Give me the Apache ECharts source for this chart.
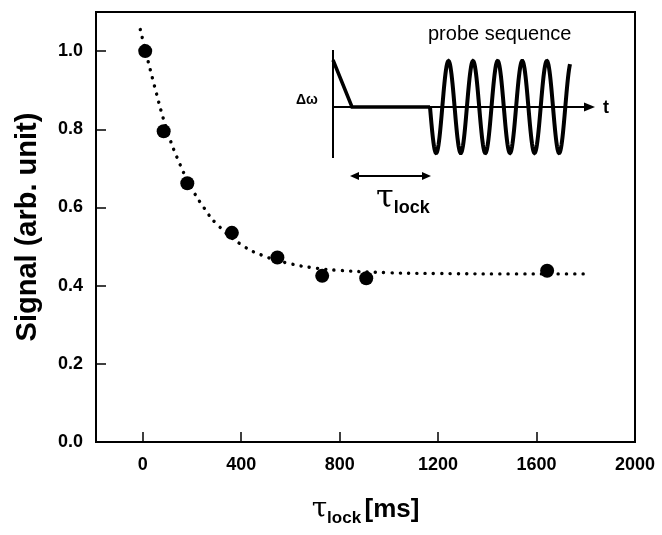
<!DOCTYPE html>
<html>
<head>
<meta charset="utf-8">
<script src="https://cdn.jsdelivr.net/npm/echarts@6/dist/echarts.min.js"></script>
<style>
html,body{margin:0;padding:0;background:#fff;}
#main{width:662px;height:535px;}
</style>
</head>
<body>
<div id="main"></div>
<script>
// ---- data ----
var tauLock = [10, 85, 181, 362, 547, 729, 908, 1643];          // ms
var signal  = [1.0, 0.795, 0.662, 0.535, 0.472, 0.425, 0.419, 0.438];
// dotted fit curve
var curveX = [-10, 50, 100, 150, 200, 250, 300, 400, 500, 600, 700, 800, 1000, 1200, 1500, 1800];
var curveY = [1.055, 0.905, 0.795, 0.712, 0.648, 0.598, 0.558, 0.505, 0.474, 0.456, 0.445, 0.439, 0.433, 0.431, 0.430, 0.430];
var xTicks = [0, 400, 800, 1200, 1600];
var xLabels = [0, 400, 800, 1200, 1600, 2000];
var yTicks = [0, 0.2, 0.4, 0.6, 0.8, 1.0];

var FONT = 'Liberation Sans';
var pts = tauLock.map(function(x, i){ return [x, signal[i]]; });
var curve = curveX.map(function(x, i){ return [x, curveY[i]]; });

// inset schematic (pure illustration)
var sine = [];
var x0 = 430, P = 24.6, A = 46, yc = 107;
for (var x = x0; x <= 570; x += 0.5) {
  sine.push([x, yc + A * Math.sin(2 * Math.PI * (x - x0) / P)]);
}

var chart = echarts.init(document.getElementById('main'), null, {renderer: 'canvas'});
chart.setOption({
  animation: false,
  backgroundColor: '#fff',
  grid: {left: 96, right: 27, top: 12, bottom: 93, show: true, borderColor: '#000', borderWidth: 2, backgroundColor: 'transparent'},
  xAxis: {
    type: 'value', min: -190, max: 2000,
    axisLine: {show: true, onZero: false, lineStyle: {color: '#000', width: 2}},
    axisTick: {show: true, inside: true, length: 10, customValues: xTicks, lineStyle: {color: '#000', width: 1.5}},
    axisLabel: {customValues: xLabels, color: '#000', fontFamily: FONT, fontWeight: 'bold', fontSize: 18, margin: 14,
      formatter: function(v){ return String(v); }},
    splitLine: {show: false},
    name: '{tau|τ}{sub|lock} {b|[ms]}',
    nameLocation: 'middle', nameGap: 50,
    nameTextStyle: {
      rich: {
        tau: {fontFamily: 'DejaVu Serif', fontSize: 28, color: '#000'},
        sub: {fontFamily: FONT, fontWeight: 'bold', fontSize: 17, color: '#000', padding: [18, 0, 0, 0]},
        b: {fontFamily: FONT, fontWeight: 'bold', fontSize: 26, color: '#000'}
      }
    }
  },
  yAxis: {
    type: 'value', min: 0, max: 1.1,
    axisLine: {show: true, onZero: false, lineStyle: {color: '#000', width: 2}},
    axisTick: {show: true, inside: true, length: 10, customValues: yTicks, lineStyle: {color: '#000', width: 1.5}},
    axisLabel: {customValues: yTicks, color: '#000', fontFamily: FONT, fontWeight: 'bold', fontSize: 18, margin: 13,
      formatter: function(v){ return v.toFixed(1); }},
    splitLine: {show: false},
    name: 'Signal (arb. unit)', nameLocation: 'middle', nameGap: 54, nameRotate: 90,
    nameTextStyle: {fontFamily: FONT, fontWeight: 'bold', fontSize: 29, color: '#000'}
  },
  series: [
    {
      type: 'line', data: curve, smooth: true, showSymbol: false, silent: true, z: 1,
      lineStyle: {color: '#000', width: 3.4, type: [0.1, 8.2], cap: 'round'}
    },
    {
      type: 'scatter', data: pts, symbol: 'circle', symbolSize: 14, z: 2,
      itemStyle: {color: '#000', opacity: 1}
    }
  ],
  graphic: [
    {type: 'line', shape: {x1: 333, y1: 50, x2: 333, y2: 158}, style: {stroke: '#000', lineWidth: 2}},
    {type: 'line', shape: {x1: 333, y1: 107, x2: 588, y2: 107}, style: {stroke: '#000', lineWidth: 2}},
    {type: 'polygon', shape: {points: [[595, 107], [584, 102.5], [584, 111.5]]}, style: {fill: '#000'}},
    {type: 'polyline', shape: {points: [[333, 60], [352, 107], [430, 107]]}, style: {stroke: '#000', lineWidth: 3.5, fill: null}},
    {type: 'polyline', shape: {points: sine, smooth: 0}, style: {stroke: '#000', lineWidth: 4, fill: null}},
    {type: 'line', shape: {x1: 354, y1: 176, x2: 427, y2: 176}, style: {stroke: '#000', lineWidth: 2}},
    {type: 'polygon', shape: {points: [[350, 176], [359, 172], [359, 180]]}, style: {fill: '#000'}},
    {type: 'polygon', shape: {points: [[431, 176], [422, 172], [422, 180]]}, style: {fill: '#000'}},
    {type: 'text', x: 376, y: 199, style: {
      text: '{tau|τ}{sub|lock}', verticalAlign: 'middle',
      rich: {
        tau: {fontFamily: 'DejaVu Serif', fontSize: 32, fill: '#000'},
        sub: {fontFamily: FONT, fontWeight: 'bold', fontSize: 18, fill: '#000', padding: [18, 0, 0, 0]}
      }}},
    {type: 'text', x: 296, y: 100, style: {text: 'Δω', fontFamily: FONT, fontWeight: 'bold', fontSize: 14, fill: '#000', verticalAlign: 'middle'}},
    {type: 'text', x: 603, y: 108, style: {text: 't', fontFamily: FONT, fontWeight: 'bold', fontSize: 18, fill: '#000', verticalAlign: 'middle'}},
    {type: 'text', x: 428, y: 34, style: {text: 'probe sequence', fontFamily: FONT, fontSize: 20, fill: '#000', verticalAlign: 'middle'}}
  ]
});
</script>
</body>
</html>
